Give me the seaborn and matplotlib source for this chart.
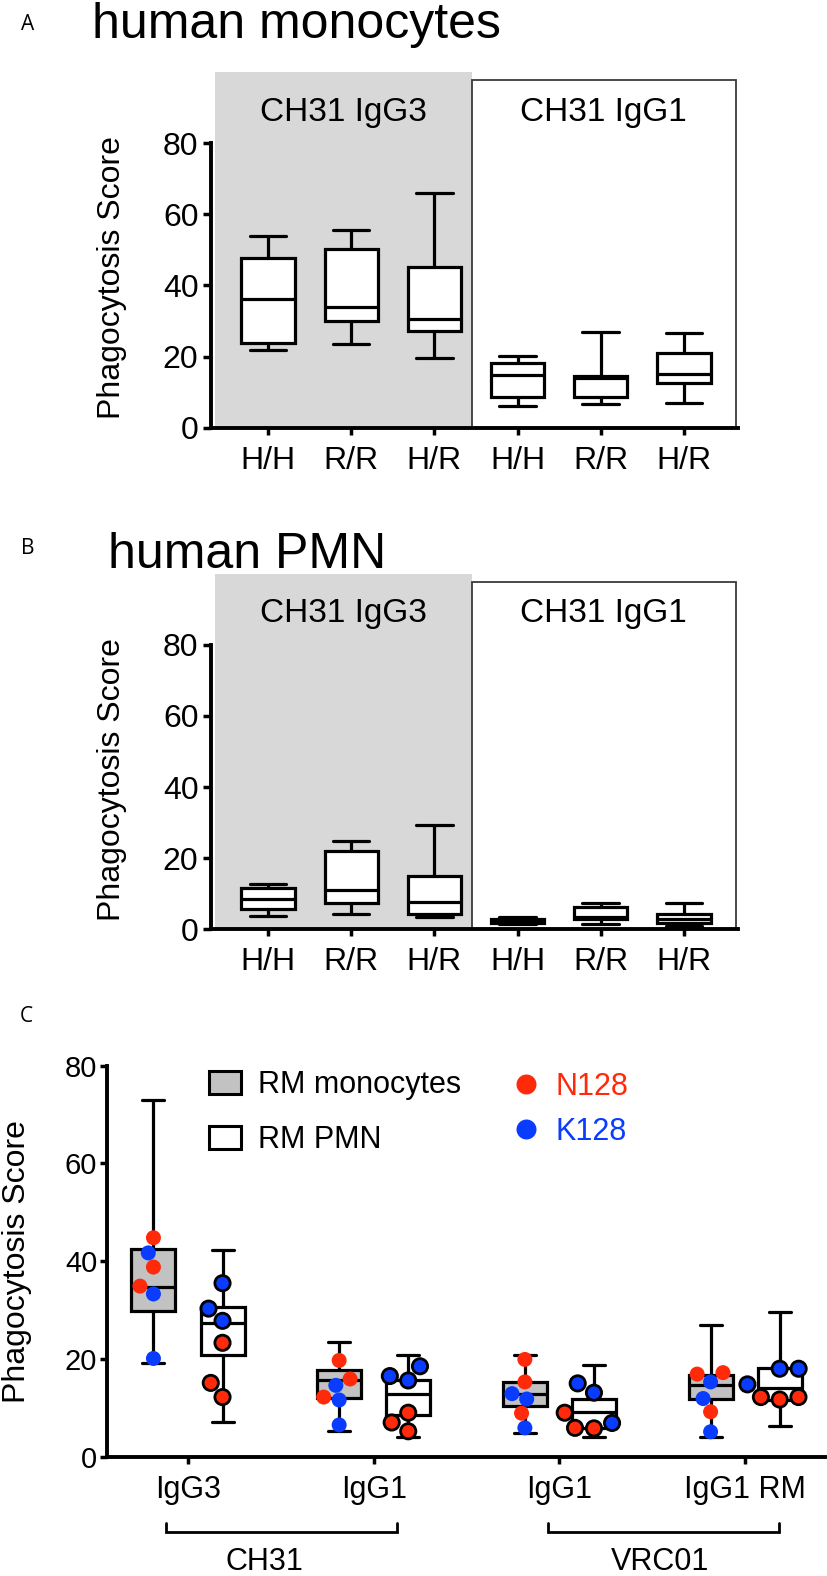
import numpy as np
import pandas as pd
import matplotlib
matplotlib.use("Agg")
import matplotlib.pyplot as plt
import matplotlib.transforms as mtransforms
from matplotlib.patches import Rectangle, Patch
from matplotlib.lines import Line2D
import seaborn as sns

# ---------------- data ----------------
genotypes = ["H/H", "R/R", "H/R"]
ab_antibodies = ["CH31 IgG3", "CH31 IgG1"]

# Panel A: human monocytes, five-number summaries
# order: IgG3 H/H, R/R, H/R, IgG1 H/H, R/R, H/R
hmono_min = [21.9, 23.5, 19.5, 6.1, 6.7, 7.0]
hmono_q1 = [23.9, 30.0, 27.2, 8.5, 8.7, 12.5]
hmono_med = [36.3, 33.9, 30.5, 14.8, 14.0, 15.1]
hmono_q3 = [47.6, 50.2, 45.3, 18.3, 14.5, 20.9]
hmono_max = [54.0, 55.6, 66.1, 20.2, 26.9, 26.7]

# Panel B: human PMN
hpmn_min = [3.8, 4.4, 3.4, 1.5, 1.4, 0.9]
hpmn_q1 = [5.8, 7.3, 4.3, 1.9, 2.9, 1.7]
hpmn_med = [8.5, 11.1, 7.8, 2.3, 3.6, 2.9]
hpmn_q3 = [11.7, 22.1, 14.9, 2.9, 6.3, 4.3]
hpmn_max = [12.8, 24.7, 29.4, 3.4, 7.3, 7.3]

# Panel C: rhesus macaque cells
c_groups = ["IgG3", "IgG1", "IgG1", "IgG1 RM"]
c_antibodies = ["CH31", "VRC01"]
c_cells = ["RM monocytes", "RM PMN"]
c_strains = ["N128", "K128"]

rm_mono_min = [19.2, 5.3, 4.8, 4.1]
rm_mono_q1 = [29.9, 12.0, 10.3, 11.9]
rm_mono_med = [34.8, 15.6, 12.8, 14.6]
rm_mono_q3 = [42.5, 17.7, 15.3, 16.7]
rm_mono_max = [73.0, 23.5, 20.9, 26.9]

rm_pmn_min = [7.0, 4.0, 4.0, 6.3]
rm_pmn_q1 = [20.8, 8.5, 5.9, 11.6]
rm_pmn_med = [27.3, 12.8, 9.2, 14.0]
rm_pmn_q3 = [30.7, 15.6, 11.9, 18.2]
rm_pmn_max = [42.2, 20.8, 18.7, 29.6]

mono_n128 = [[44.8, 38.8, 34.9], [19.7, 15.9, 12.2], [19.9, 15.3, 8.9], [17.2, 16.9, 9.2]]
mono_k128 = [[41.7, 33.3, 20.1], [14.6, 11.6, 6.5], [12.9, 11.8, 5.9], [15.3, 11.9, 5.1]]
pmn_n128 = [[23.3, 15.1, 12.2], [9.0, 7.0, 5.2], [9.0, 5.9, 5.8], [12.2, 12.2, 11.7]]
pmn_k128 = [[35.5, 30.3, 27.8], [18.5, 16.5, 15.6], [15.0, 13.1, 6.9], [18.0, 18.0, 14.8]]

# ---------------- style ----------------
sns.set_style("ticks", {"axes.edgecolor": "black", "text.color": "black",
                        "xtick.color": "black", "ytick.color": "black",
                        "axes.labelcolor": "black"})
plt.rcParams["font.family"] = ["Liberation Sans", "DejaVu Sans"]
plt.rcParams["axes.linewidth"] = 2.8

RED = "#ff2a0a"
BLUE = "#0a3cff"
GRAY_BG = "#d8d8d8"
GRAY_BOX = "#c2c2c2"

W, H = 827, 1576
fig = plt.figure(figsize=(W / 100, H / 100), dpi=100)


def px_axes(left, right, top, bottom):
    return fig.add_axes([left / W, 1 - bottom / H, (right - left) / W, (bottom - top) / H])


def five_num_frame(keys, mins, q1s, meds, q3s, maxs):
    rows = []
    for k, a, b, c, d, e in zip(keys, mins, q1s, meds, q3s, maxs):
        for v in (a, b, c, d, e):
            rows.append((k, v))
    return pd.DataFrame(rows, columns=["box", "value"])


box_keys = [f"{ab} {g}" for ab in ab_antibodies for g in genotypes]


def draw_ab(ax, mins, q1s, meds, q3s, maxs):
    df = five_num_frame(box_keys, mins, q1s, meds, q3s, maxs)
    sns.boxplot(data=df, x="box", y="value", order=box_keys, color="white",
                width=0.64, linecolor="black", linewidth=2.3, whis=(0, 100),
                fliersize=0, saturation=1, capwidths=0.44, ax=ax, zorder=2)
    split = 2.45
    ax.add_patch(Rectangle((-0.64, 0), split + 0.64, 100, facecolor=GRAY_BG,
                           edgecolor="none", zorder=0))
    ax.add_patch(Rectangle((split, 0), 5.625 - split, 97.8, facecolor="none",
                           edgecolor="#3a3a3a", lw=1.3, zorder=0.5, clip_on=False))
    ax.text((-0.64 + split) / 2, 88.8, ab_antibodies[0], ha="center", va="center", fontsize=24)
    ax.text((split + 5.625) / 2, 88.8, ab_antibodies[1], ha="center", va="center", fontsize=24)
    ax.set_xlim(-0.685, 5.65)
    ax.set_ylim(0, 100)
    ax.set_yticks([0, 20, 40, 60, 80])
    ax.set_xticks(range(6))
    ax.set_xticklabels(genotypes * 2)
    ax.set_xlabel("")
    ax.set_ylabel("Phagocytosis Score", fontsize=23)
    ax.yaxis.set_label_coords(-0.159, 0.421)
    for s in ["top", "right"]:
        ax.spines[s].set_visible(False)
    ax.spines["left"].set_bounds(0, 80)
    ax.tick_params(axis="y", length=6, width=2.5, labelsize=23, pad=3)
    ax.tick_params(axis="x", length=5, width=2.5, labelsize=23, pad=8)
    ax.patch.set_alpha(0)


# ---------------- panel A ----------------
axA = px_axes(211, 738, 72.2, 427.7)
draw_ab(axA, hmono_min, hmono_q1, hmono_med, hmono_q3, hmono_max)
fig.text(21 / W, 1 - 24 / H, "A", fontsize=15, va="center", ha="left", family=["Open Sans", "DejaVu Sans"])
fig.text(92 / W, 1 - 37.5 / H, "human monocytes", fontsize=36, va="baseline", ha="left")

# ---------------- panel B ----------------
axB = px_axes(211, 738, 573.8, 929.3)
draw_ab(axB, hpmn_min, hpmn_q1, hpmn_med, hpmn_q3, hpmn_max)
fig.text(21 / W, 1 - 548.5 / H, "B", fontsize=15, va="center", ha="left", family=["Open Sans", "DejaVu Sans"])
fig.text(108 / W, 1 - 567.5 / H, "human PMN", fontsize=36, va="baseline", ha="left")

# ---------------- panel C ----------------
axC = px_axes(107, 825, 1065.7, 1456.7)
fig.text(20 / W, 1 - 1017 / H, "C", fontsize=15, va="center", ha="left", family=["Open Sans", "DejaVu Sans"])

cell_offset = {"RM monocytes": -0.186, "RM PMN": 0.186}
box_stats = {
    "RM monocytes": (rm_mono_min, rm_mono_q1, rm_mono_med, rm_mono_q3, rm_mono_max),
    "RM PMN": (rm_pmn_min, rm_pmn_q1, rm_pmn_med, rm_pmn_q3, rm_pmn_max),
}
rows = []
for cell in c_cells:
    for gi in range(len(c_groups)):
        for stat in box_stats[cell]:
            rows.append((gi + cell_offset[cell], cell, stat[gi]))
box_c = pd.DataFrame(rows, columns=["pos", "cell", "value"])

dot_sets = {
    ("RM monocytes", "N128"): mono_n128,
    ("RM monocytes", "K128"): mono_k128,
    ("RM PMN", "N128"): pmn_n128,
    ("RM PMN", "K128"): pmn_k128,
}
rows = []
for (cell, strain), per_group in dot_sets.items():
    for gi, vals in enumerate(per_group):
        for v in vals:
            rows.append((gi + cell_offset[cell], cell, strain, v))
dots_c = pd.DataFrame(rows, columns=["pos", "cell", "strain", "value"])

sns.boxplot(data=box_c, x="pos", y="value", hue="cell", hue_order=c_cells,
            palette={"RM monocytes": GRAY_BOX, "RM PMN": "white"},
            native_scale=True, dodge=False, width=0.637, orient="x",
            linecolor="black", linewidth=2.3, whis=(0, 100), fliersize=0,
            saturation=1, legend=False, ax=axC)

pal = {"N128": RED, "K128": BLUE}
sns.swarmplot(data=dots_c[dots_c["cell"] == "RM monocytes"], x="pos", y="value",
              hue="strain", hue_order=c_strains, palette=pal, native_scale=True,
              orient="x", size=10.8, linewidth=0, legend=False, ax=axC, zorder=4)
sns.swarmplot(data=dots_c[dots_c["cell"] == "RM PMN"], x="pos", y="value",
              hue="strain", hue_order=c_strains, palette=pal, native_scale=True,
              orient="x", size=11, linewidth=2.0, edgecolor="black", legend=False,
              ax=axC, zorder=4)

axC.set_xlim(-0.436, 3.43)
axC.set_ylim(0, 80)
axC.set_yticks([0, 20, 40, 60, 80])
axC.set_xticks(range(len(c_groups)))
axC.set_xticklabels(c_groups)
axC.set_xlabel("")
axC.set_ylabel("Phagocytosis Score", fontsize=23)
axC.yaxis.set_label_coords(-0.104, 0.5)
for s in ["top", "right"]:
    axC.spines[s].set_visible(False)
axC.tick_params(axis="y", length=5, width=2.5, labelsize=21, pad=2)
axC.tick_params(axis="x", length=5, width=2.5, labelsize=22, pad=8)

# brackets under the group labels
trans = mtransforms.blended_transform_factory(axC.transData, axC.transAxes)
brackets = [(-0.118, 1.126, 0.41), (1.939, 3.183, 2.54)]
for (x0, x1, xl), lab in zip(brackets, c_antibodies):
    axC.plot([x0, x0, x1, x1], [-0.169, -0.192, -0.192, -0.169], transform=trans,
             clip_on=False, color="black", lw=2.0, solid_joinstyle="miter")
    axC.text(xl, -0.269, lab, transform=trans, ha="center", va="center", fontsize=22)

# legends
h1 = [Patch(facecolor=GRAY_BOX, edgecolor="black", linewidth=2.2, label=c_cells[0]),
      Patch(facecolor="white", edgecolor="black", linewidth=2.2, label=c_cells[1])]
leg1 = axC.legend(handles=h1, loc="upper left", bbox_to_anchor=(209 / W, 1 - 1070 / H),
                  bbox_transform=fig.transFigure, frameon=False, fontsize=22,
                  handlelength=1.05, handleheight=0.78, handletextpad=0.56,
                  labelspacing=0.83, borderpad=0, borderaxespad=0)
axC.add_artist(leg1)
h2 = [Line2D([], [], ls="none", marker="o", markersize=14.4, markerfacecolor=pal[s],
             markeredgecolor="none", label=s) for s in c_strains]
leg2 = axC.legend(handles=h2, loc="upper left", bbox_to_anchor=(511 / W, 1 - 1072 / H),
                  bbox_transform=fig.transFigure, frameon=False, fontsize=22,
                  handlelength=1.0, handletextpad=0.46, labelspacing=0.48,
                  borderpad=0, borderaxespad=0)
for t, s in zip(leg2.get_texts(), c_strains):
    t.set_color(pal[s])

fig.savefig("out.png", dpi=100)
